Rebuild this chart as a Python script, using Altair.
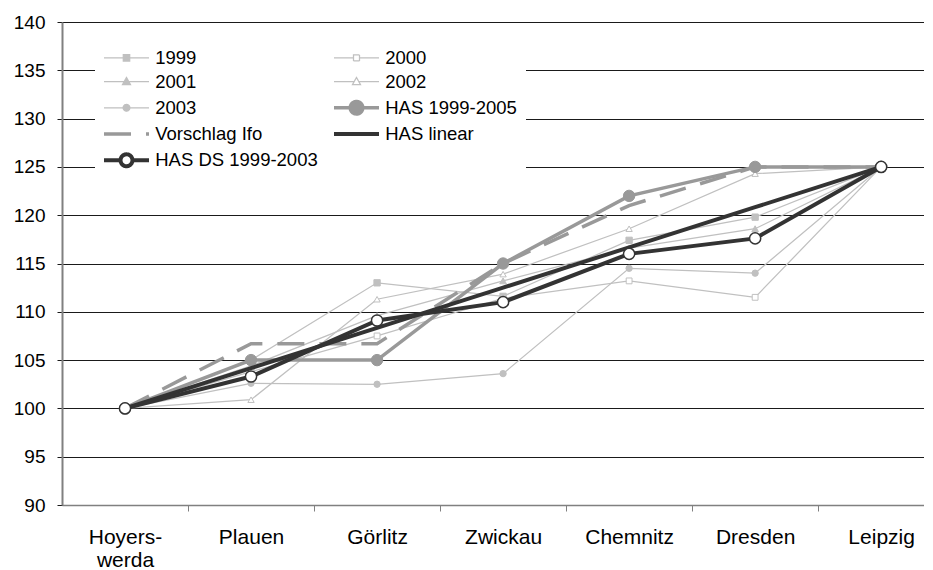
import json
import math
import altair as alt
import pandas as pd

# ---------------- data ----------------
cities = ["Hoyerswerda", "Plauen", "Görlitz", "Zwickau", "Chemnitz", "Dresden", "Leipzig"]
city_labels = [["Hoyers-", "werda"], "Plauen", "Görlitz", "Zwickau", "Chemnitz", "Dresden", "Leipzig"]
y_ticks = [90, 95, 100, 105, 110, 115, 120, 125, 130, 135, 140]

series_names = ["1999", "2000", "2001", "2002", "2003",
                "HAS 1999-2005", "Vorschlag Ifo", "HAS linear", "HAS DS 1999-2003"]

v1999 = [100, 105.0, 113.0, 111.6, 117.4, 119.8, 125]
v2000 = [100, 103.8, 107.5, 111.4, 113.2, 111.5, 125]
v2001 = [100, 104.4, 109.6, 113.2, 116.6, 118.6, 125]
v2002 = [100, 100.9, 111.3, 113.9, 118.6, 124.3, 125]
v2003 = [100, 102.6, 102.5, 103.6, 114.5, 114.0, 125]
v_has = [100, 105.0, 105.0, 115.0, 122.0, 125.0, 125]
v_ifo = [100, 106.7, 106.7, 115.0, 121.0, 125.0, 125]
v_lin = [100, 104.17, 108.33, 112.5, 116.67, 120.83, 125]
v_ds = [100, 103.3, 109.1, 111.0, 116.0, 117.6, 125]

series_values = [v1999, v2000, v2001, v2002, v2003, v_has, v_ifo, v_lin, v_ds]

rows = []
for s, vals in zip(series_names, series_values):
    for i, v in enumerate(vals):
        rows.append({"series": s, "i": i, "city": cities[i], "v": v})
df = pd.DataFrame(rows)

# ---------------- styles ----------------
LIGHT = "#c0c0c0"
MID = "#999999"
DARK = "#333333"
FONT = "Liberation Sans"

style = {
    "1999": dict(color=LIGHT, width=1.25, dash=None, marker="square", mfill=LIGHT, msize=40, mstroke=1),
    "2000": dict(color=LIGHT, width=1.25, dash=None, marker="square", mfill="white", msize=34, mstroke=1),
    "2001": dict(color=LIGHT, width=1.25, dash=None, marker="triangle-up", mfill=LIGHT, msize=45, mstroke=1),
    "2002": dict(color=LIGHT, width=1.25, dash=None, marker="triangle-up", mfill="white", msize=40, mstroke=1),
    "2003": dict(color=LIGHT, width=1.25, dash=None, marker="circle", mfill=LIGHT, msize=40, mstroke=1),
    "HAS 1999-2005": dict(color=MID, width=3.5, dash=None, marker="circle", mfill=MID, msize=130, mstroke=1),
    "Vorschlag Ifo": dict(color=MID, width=3.5, dash=[27, 15], marker=None),
    "HAS linear": dict(color=DARK, width=4, dash=None, marker=None),
    "HAS DS 1999-2003": dict(color=DARK, width=4, dash=None, marker="circle", mfill="white", msize=125, mstroke=1.5),
}

# legend symbol paths: line of 45 px with marker; one unit = U px
SYM_SIZE = 144
U = (SYM_SIZE ** 0.5) / 2.0
HALF = 22.5 / U


def p(v):
    return f"{v / U:.4f}"


def circ(r, n=20):
    pts = []
    for k in range(n):
        a = 2 * math.pi * k / n
        pts.append(f"{p(r * math.cos(a))},{p(r * math.sin(a))}")
    return "M" + "L".join(pts) + "Z"


def sq(h):
    return f"M{p(-h)},{p(-h)}H{p(h)}V{p(h)}H{p(-h)}Z"


def tri(h):
    return f"M0,{p(-1.15 * h)}L{p(1.15 * h)},{p(0.9 * h)}L{p(-1.15 * h)},{p(0.9 * h)}Z"


full = f"M{-HALF:.4f},0H{HALF:.4f}"


def split(gap):
    return f"M{-HALF:.4f},0H{p(-gap)}M{p(gap)},0H{HALF:.4f}"


legend_paths = {
    "1999": full + sq(3.2),
    "2000": split(3) + sq(3),
    "2001": full + tri(3.5),
    "2002": split(2.2) + tri(3.5),
    "2003": full + circ(3.4),
    "HAS 1999-2005": full + circ(6.3),
    "Vorschlag Ifo": full,
    "HAS linear": full,
    "HAS DS 1999-2003": split(6) + circ(6),
}

x_scale = alt.Scale(domain=[-0.5, 6.34], nice=False, zero=False)
y_scale = alt.Scale(domain=[90, 140], nice=False, zero=False)

labels_js = json.dumps(city_labels, ensure_ascii=False)
label_expr = f"datum.value % 1 === 0 ? {labels_js}[datum.value] : ''"

x_axis = alt.Axis(
    title=None,
    grid=False,
    values=[k / 2 for k in range(13)],
    labelExpr=label_expr,
    labelOverlap=False,
    labelFlush=False,
    labelFont=FONT,
    labelFontSize=21,
    labelColor="black",
    labelPadding=15,
    labelLineHeight=23,
    domainColor="#808080",
    domainWidth=1.5,
    tickColor="#808080",
    tickSize=6,
    tickWidth=1,
    tickOpacity={"condition": {"test": "datum.value % 1 === 0", "value": 0}, "value": 1},
)

y_axis = alt.Axis(
    title=None,
    values=y_ticks,
    grid=True,
    gridColor="#1a1a1a",
    gridWidth=1,
    labelFont=FONT,
    labelFontSize=19,
    labelColor="black",
    labelPadding=12,
    domainColor="#808080",
    domainWidth=2,
    tickColor="#1a1a1a",
    tickSize=5,
    tickWidth=1,
)

base = alt.Chart(df)
layers = []
first = True
for s in series_names:
    st = style[s]
    sub = base.transform_filter(alt.datum.series == s)
    line_kwargs = dict(color=st["color"], strokeWidth=st["width"])
    if st["dash"]:
        line_kwargs["strokeDash"] = st["dash"]
    if first:
        enc = dict(x=alt.X("i:Q", scale=x_scale, axis=x_axis),
                   y=alt.Y("v:Q", scale=y_scale, axis=y_axis))
        first = False
    else:
        enc = dict(x=alt.X("i:Q"), y=alt.Y("v:Q"))
    layers.append(sub.mark_line(**line_kwargs).encode(**enc))
    if st["marker"]:
        layers.append(
            sub.mark_point(
                shape=st["marker"], filled=True, fill=st["mfill"], stroke=st["color"],
                strokeWidth=st["mstroke"], size=st["msize"], opacity=1,
            ).encode(x=alt.X("i:Q"), y=alt.Y("v:Q"))
        )

# legend-only layer (invisible marks, visible legend)
sym_center = (18.5 / 2.0)
sym_offset = 22.5 - sym_center
leg = alt.Legend(
    title=None, orient="none", legendX=33, legendY=15, columns=2, direction="horizontal",
    gridAlign="all",
    fillColor="white", padding=9, symbolSize=SYM_SIZE, symbolOpacity=1,
    symbolOffset=sym_offset,
    labelFont=FONT, labelFontSize=18.5, labelColor="black", labelLimit=400,
    labelOffset=19.5, rowPadding=-2.75, columnPadding=8,
)
leg_df = pd.DataFrame({"series": series_names})
legend_layer = alt.Chart(leg_df).mark_point(opacity=0, strokeJoin="round").encode(
    color=alt.Color("series:N", legend=leg,
                    scale=alt.Scale(domain=series_names, range=[style[s]["color"] for s in series_names])),
    fill=alt.Fill("series:N", legend=leg,
                  scale=alt.Scale(domain=series_names,
                                  range=[style[s].get("mfill", "white") for s in series_names])),
    shape=alt.Shape("series:N", legend=leg,
                    scale=alt.Scale(domain=series_names, range=[legend_paths[s] for s in series_names])),
    strokeWidth=alt.StrokeWidth("series:N", legend=leg,
                                scale=alt.Scale(type="ordinal", domain=series_names,
                                                range=[style[s]["width"] for s in series_names])),
    strokeDash=alt.StrokeDash("series:N", legend=leg,
                              scale=alt.Scale(domain=series_names,
                                              range=[style[s]["dash"] or [1, 0] for s in series_names])),
)

chart = alt.layer(*layers, legend_layer).properties(
    width=862, height=483,
    padding={"left": 5, "top": 5, "right": 0, "bottom": 0},
).configure_view(stroke=None)

chart.save("out.html", embed_options={"renderer": "svg", "actions": False})
